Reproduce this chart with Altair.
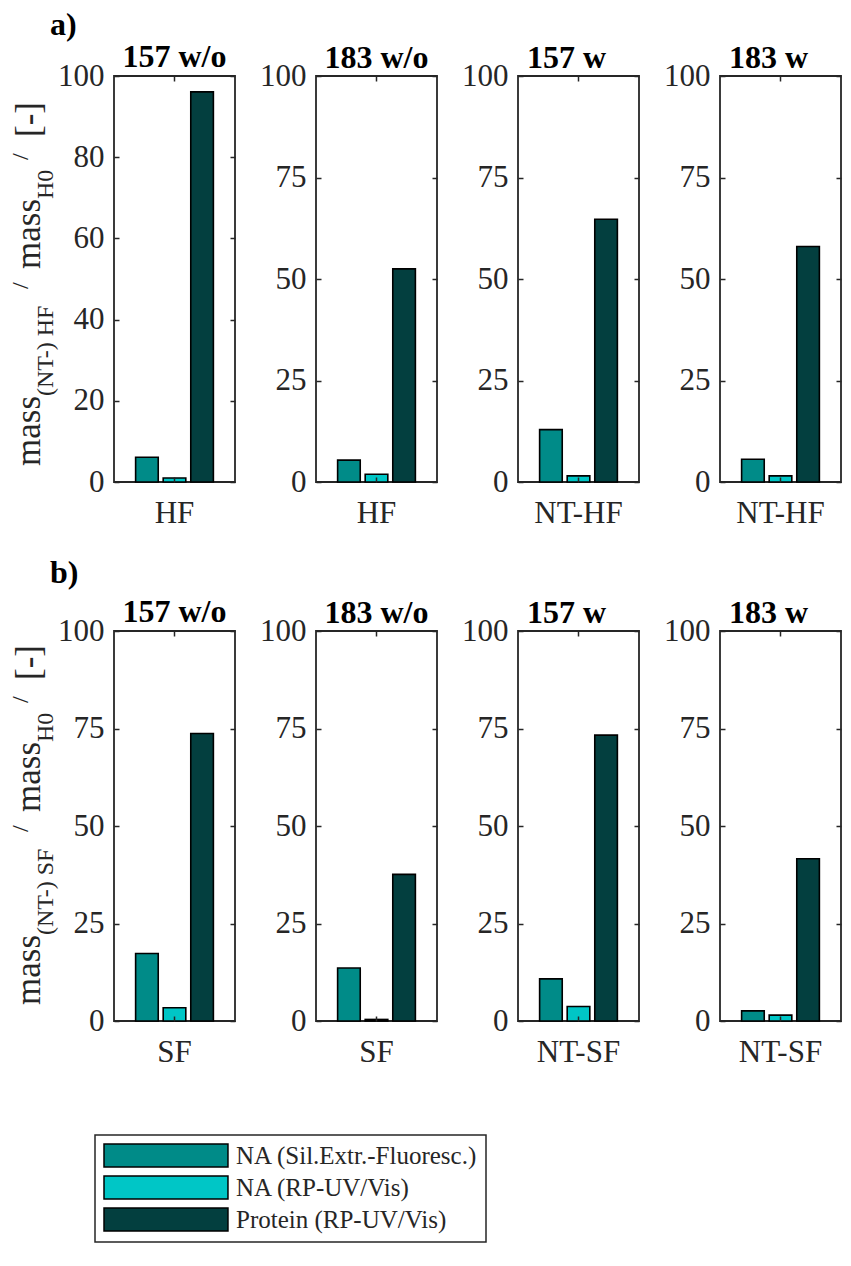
import altair as alt
import pandas as pd

FONT = "Liberation Serif"
AXC = "#262626"

SERIES = ["NA (Sil.Extr.-Fluoresc.)", "NA (RP-UV/Vis)", "Protein (RP-UV/Vis)"]
COLORS = ["#008B88", "#00C6C6", "#033F3F"]

PANEL_TITLES = ["157 w/o", "183 w/o", "157 w", "183 w"]
TITLE_DX = [0, 0, -12, -12]
HF_LABELS = ["HF", "HF", "NT-HF", "NT-HF"]
SF_LABELS = ["SF", "SF", "NT-SF", "NT-SF"]

HF_FLUOR = [6.1, 5.4, 12.9, 5.6]
HF_UV = [1.0, 1.9, 1.5, 1.5]
HF_PROT = [96.1, 52.5, 64.7, 58.0]

SF_FLUOR = [17.3, 13.6, 10.8, 2.6]
SF_UV = [3.4, 0.4, 3.7, 1.5]
SF_PROT = [73.7, 37.6, 73.3, 41.6]

TICKS_20 = [0, 20, 40, 60, 80, 100]
TICKS_25 = [0, 25, 50, 75, 100]

W = 121
H_A = 406
H_B = 390
ROW_GAP = 149
COL_GAP = 81
LEGEND_GAP = 114

# per-row: tag text y position, title dy for first panel
ROW_TAG_Y = {"a)": -41, "b)": -48}
ROW_DY0 = {"a)": 68, "b)": 75}

LEGEND = alt.Legend(
    title=None, orient="none", legendX=-19, legendY=H_A + ROW_GAP + H_B + LEGEND_GAP,
    direction="vertical",
    symbolType="M-1,-1H9.78V1H-1Z", symbolSize=529,
    symbolStrokeColor="black", symbolStrokeWidth=1.5, symbolOpacity=1,
    labelFont=FONT, labelFontSize=25, labelColor=AXC, labelLimit=600,
    labelOffset=108, strokeColor=AXC, padding=8,
    rowPadding=3, fillColor="white",
)


def ytitle_layers(sub, H, tag):
    dummy = pd.DataFrame({"k": [0]})
    base_y = H - 16
    shift = 0 if sub == "HF" else -4
    pieces = [
        ("mass", 35, 0, -74),
        (f"(NT-) {sub}", 24, 70, -61),
        ("/", 24, 177 + shift, -86),
        ("mass", 35, 197 + shift, -74),
        ("H0", 24, 267 + shift, -61),
        ("/", 24, 306 + shift, -86),
        ("[-]", 35, 329 + shift, -74),
    ]
    out = []
    for txt, fs, off, xx in pieces:
        out.append(
            alt.Chart(dummy).mark_text(
                angle=270, align="left", baseline="alphabetic",
                font=FONT, fontSize=fs, color=AXC,
            ).encode(x=alt.value(xx), y=alt.value(base_y - off), text=alt.value(txt))
        )
    out.append(
        alt.Chart(dummy).mark_text(
            align="left", baseline="alphabetic", font=FONT, fontSize=32,
            fontWeight="bold", color="black",
        ).encode(x=alt.value(-64), y=alt.value(ROW_TAG_Y[tag]), text=alt.value(tag))
    )
    return out


def panel(i, labels, fluor, uv, prot, H, sub, tag):
    df = pd.DataFrame({
        "cat": [labels[i]] * 3,
        "series": SERIES,
        "value": [fluor[i], uv[i], prot[i]],
    })
    ticks = TICKS_20 if (sub == "HF" and i == 0) else TICKS_25
    ysc = alt.Scale(domain=[0, 100], nice=False)
    xsc = alt.Scale(paddingInner=0, paddingOuter=0.278)
    base = alt.Chart(df)
    bars = base.mark_bar(stroke="black", strokeWidth=1.6, opacity=1).encode(
        x=alt.X("cat:N", scale=xsc, axis=alt.Axis(
            orient="bottom", ticks=False, tickSize=0, domain=False, labelAngle=0,
            title=None, labelFontSize=31, labelPadding=16, labelFont=FONT)),
        xOffset=alt.XOffset("series:N", sort=SERIES,
                            scale=alt.Scale(paddingInner=0.18, paddingOuter=0)),
        y=alt.Y("value:Q", scale=ysc, axis=alt.Axis(
            orient="left", values=ticks, ticks=False, tickSize=0, domain=False,
            grid=False, title=None, labelFontSize=31, labelPadding=10, labelFont=FONT)),
        color=alt.Color("series:N", sort=SERIES,
                        scale=alt.Scale(domain=SERIES, range=COLORS), legend=LEGEND),
    )
    t1 = base.mark_point(opacity=0).encode(
        x=alt.X("cat:N", scale=xsc, axis=alt.Axis(
            orient="top", offset=-H, labels=False, domain=False, ticks=True,
            tickSize=5, title=None, zindex=2)),
        y=alt.Y("value:Q", scale=ysc, axis=alt.Axis(
            orient="right", offset=-W, values=ticks, labels=False, domain=False,
            grid=False, ticks=True, tickSize=5, title=None, zindex=2)),
    )
    t2 = base.mark_point(opacity=0).encode(
        x=alt.X("cat:N", scale=xsc, axis=alt.Axis(
            orient="bottom", offset=-H, labels=False, domain=False, ticks=True,
            tickSize=5, title=None, zindex=2)),
        y=alt.Y("value:Q", scale=ysc, axis=alt.Axis(
            orient="left", offset=-W, values=ticks, labels=False, domain=False,
            grid=False, ticks=True, tickSize=5, title=None, zindex=2)),
    )
    layers = [bars, t1, t2]
    if i == 0:
        layers += ytitle_layers(sub, H, tag)
    dy = ROW_DY0[tag] if i == 0 else 18
    ch = alt.layer(*layers).resolve_axis(x="independent", y="independent").properties(
        width=W, height=H,
        title=alt.TitleParams(PANEL_TITLES[i], fontSize=32, fontWeight="bold",
                              font=FONT, color="black", offset=3,
                              dx=TITLE_DX[i], dy=dy),
    )
    return ch


panels = [panel(i, HF_LABELS, HF_FLUOR, HF_UV, HF_PROT, H_A, "HF", "a)") for i in range(4)]
panels += [panel(i, SF_LABELS, SF_FLUOR, SF_UV, SF_PROT, H_B, "SF", "b)") for i in range(4)]

chart = alt.concat(
    *panels, columns=4, bounds="flush",
    spacing=alt.RowColnumber(row=ROW_GAP, column=COL_GAP),
).properties(
    padding={"left": 0, "top": 0, "right": 0, "bottom": 0}
).configure_view(
    stroke=AXC, strokeWidth=1.8
).configure_axis(
    labelFont=FONT, labelColor=AXC, tickColor=AXC, tickWidth=1.5, grid=False, domain=False
).configure_legend(
    strokeWidth=1.5
).configure_title(font=FONT, color="black")

chart.save("out.html", embed_options={"renderer": "svg", "actions": False})
